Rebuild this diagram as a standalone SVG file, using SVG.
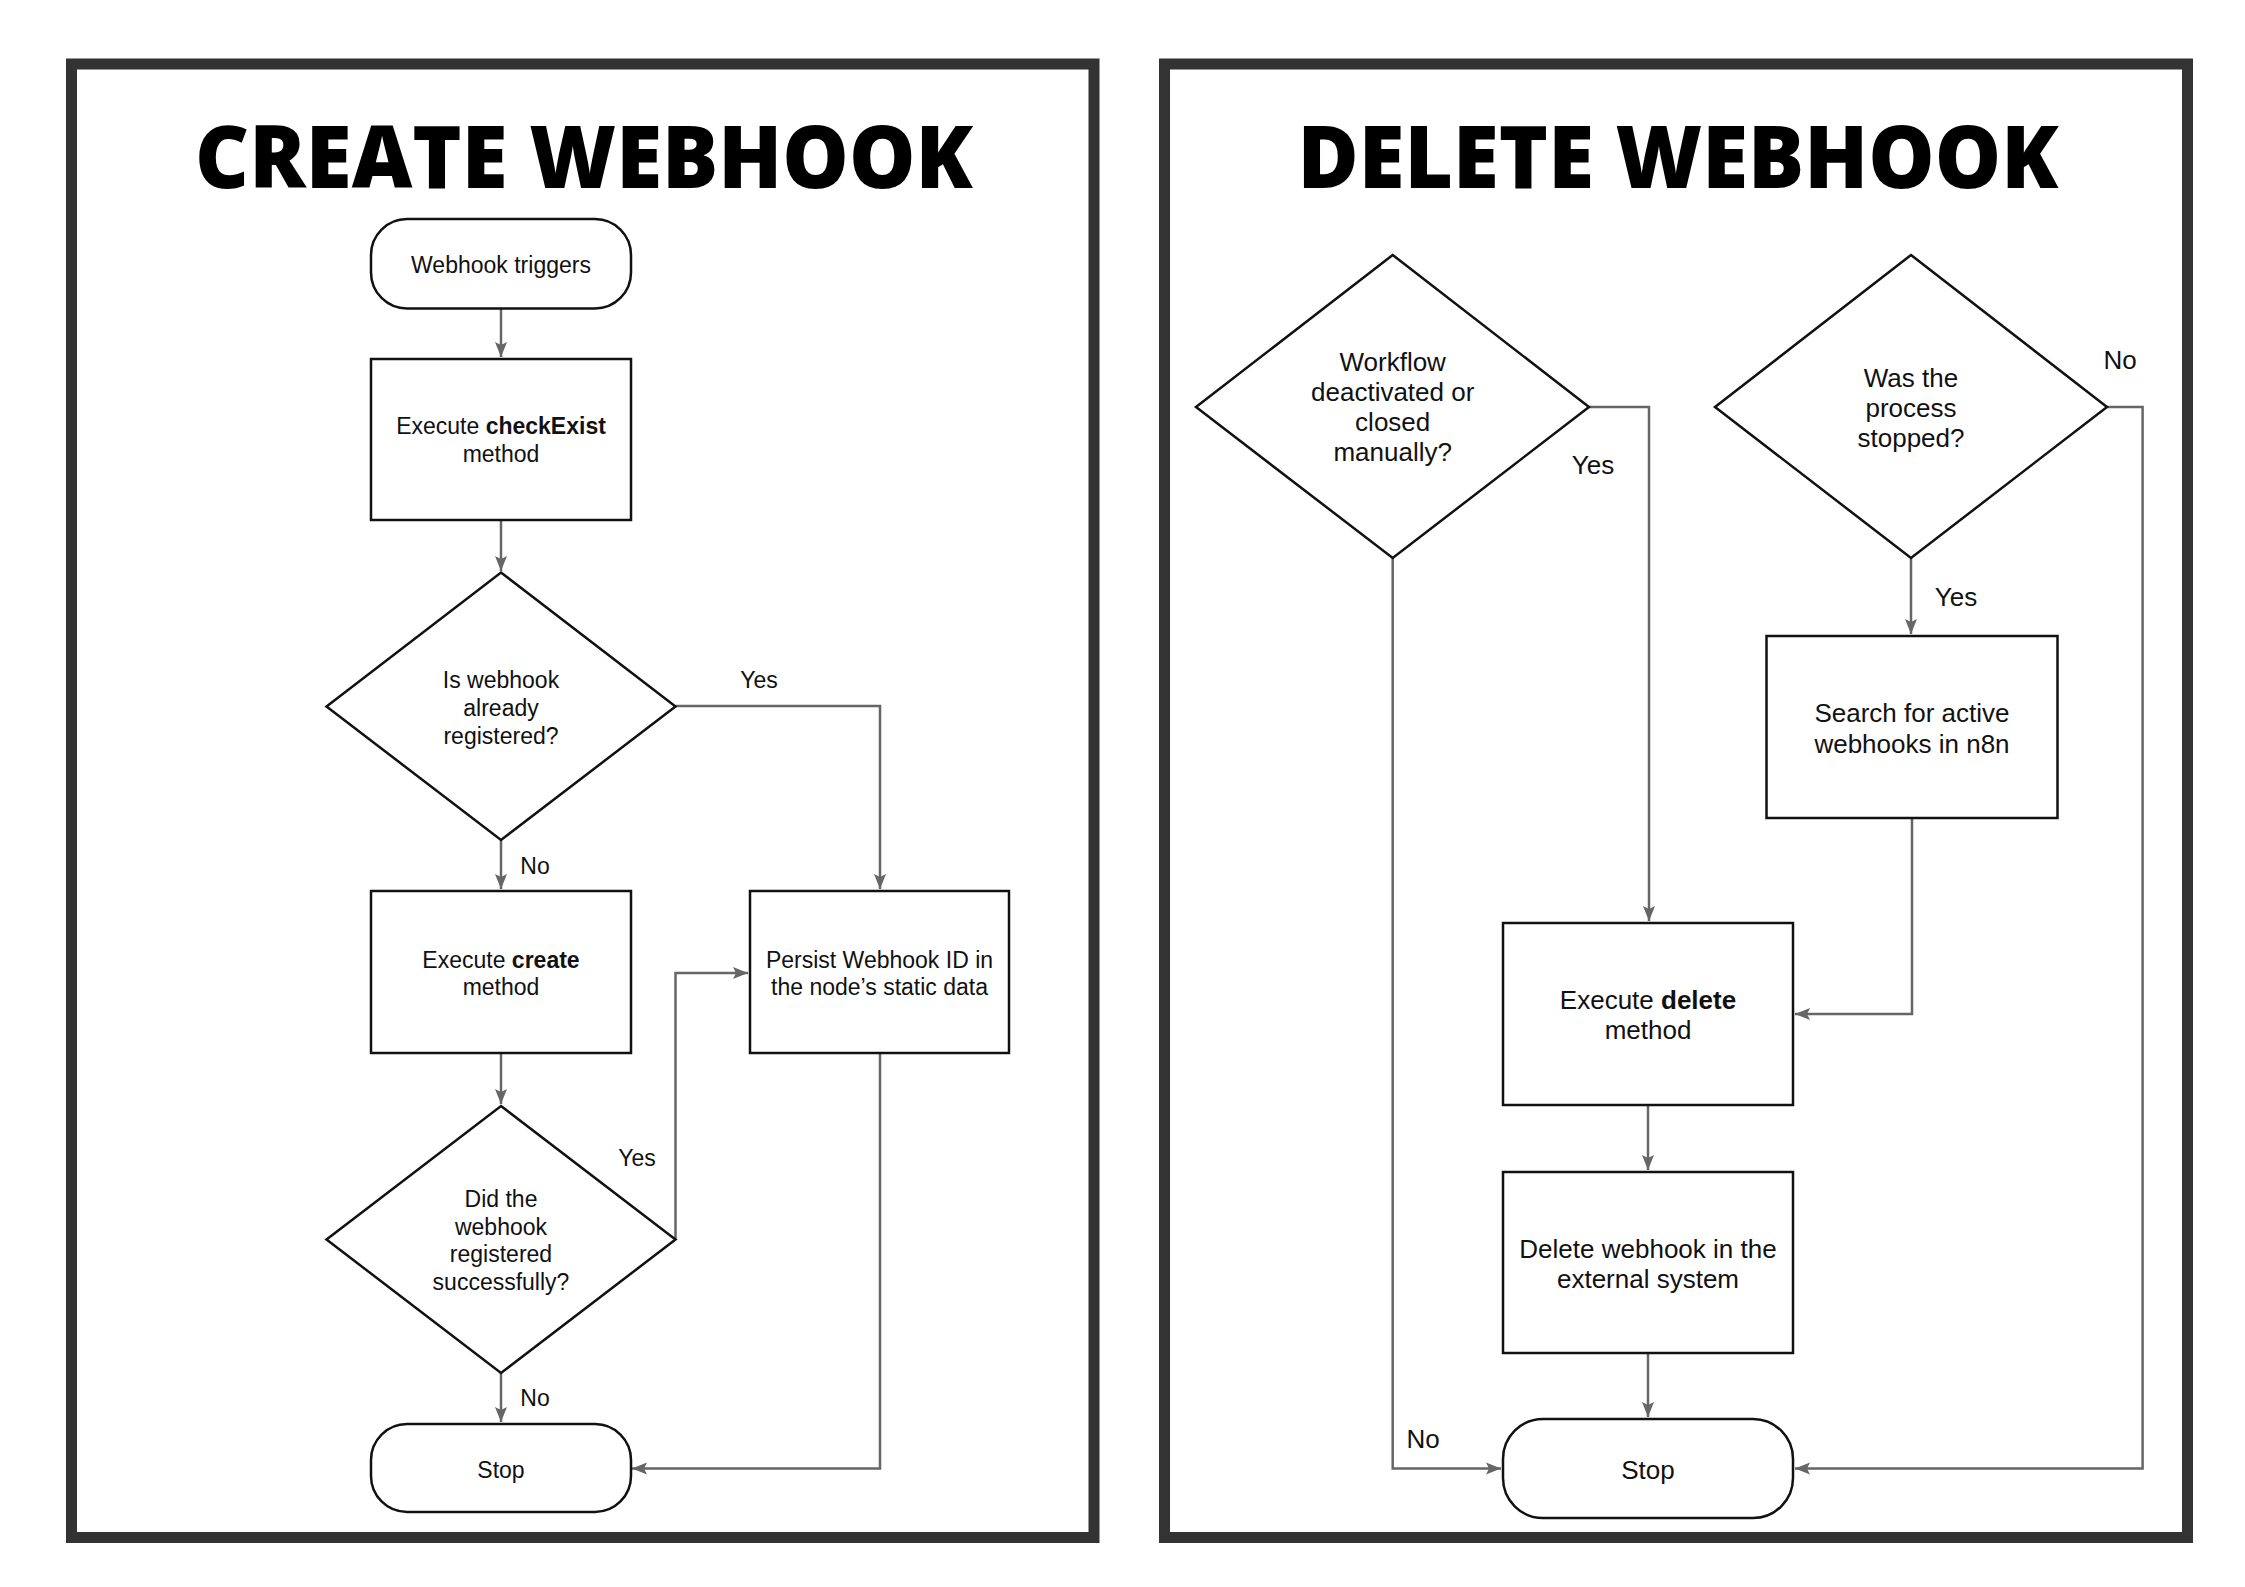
<svg xmlns="http://www.w3.org/2000/svg" width="2245" height="1587" viewBox="0 0 2245 1587">
<defs>
<marker id="arr" markerUnits="userSpaceOnUse" markerWidth="18" markerHeight="14" viewBox="-16 -7 17 14" refX="0" refY="0" orient="auto">
<path d="M0,0 L-15,-6 L-12,0 L-15,6 Z" fill="#666"/>
</marker>
<style>
.frame{fill:none;stroke:#333;stroke-width:11}
.title{font-family:"Open Sans","Liberation Sans",sans-serif;font-weight:800;font-size:86px;fill:#000;text-anchor:middle}
.n{fill:#fff;stroke:#111;stroke-width:2.5}
.t{font-family:"Liberation Sans",Arial,sans-serif;font-size:23px;fill:#111;text-anchor:middle}
.t2{font-family:"Liberation Sans",Arial,sans-serif;font-size:26px;fill:#111;text-anchor:middle}
.c{fill:none;stroke:#666;stroke-width:2.5}
.b{font-weight:bold}
</style>
</defs>
<rect width="2245" height="1587" fill="#fff"/>
<rect class="frame" x="71.5" y="64" width="1022.5" height="1473.5"/>
<rect class="frame" x="1164.5" y="64" width="1023" height="1473.5"/>
<text class="title" x="584" y="188" textLength="778" lengthAdjust="spacingAndGlyphs">CREATE WEBHOOK</text>
<text class="title" x="1678" y="188" textLength="761" lengthAdjust="spacingAndGlyphs">DELETE WEBHOOK</text>

<g id="connectors">
<path class="c" d="M501,309 V357" marker-end="url(#arr)"/>
<path class="c" d="M501,520 V571" marker-end="url(#arr)"/>
<path class="c" d="M676,706 H880 V889" marker-end="url(#arr)"/>
<path class="c" d="M501,840 V889" marker-end="url(#arr)"/>
<path class="c" d="M501,1053 V1104" marker-end="url(#arr)"/>
<path class="c" d="M675.5,1239 V973 H748" marker-end="url(#arr)"/>
<path class="c" d="M501,1373 V1422" marker-end="url(#arr)"/>
<path class="c" d="M880,1053 V1468.5 H632" marker-end="url(#arr)"/>
<path class="c" d="M1589,407 H1649 V921" marker-end="url(#arr)"/>
<path class="c" d="M1392.7,558 V1468.5 H1501" marker-end="url(#arr)"/>
<path class="c" d="M2107,407 H2142.6 V1468.5 H1795" marker-end="url(#arr)"/>
<path class="c" d="M1911,558 V634" marker-end="url(#arr)"/>
<path class="c" d="M1912,818 V1014 H1795" marker-end="url(#arr)"/>
<path class="c" d="M1648,1105 V1170" marker-end="url(#arr)"/>
<path class="c" d="M1648,1353 V1417" marker-end="url(#arr)"/>
<text class="t" x="759" y="688">Yes</text>
<text class="t" x="535" y="874">No</text>
<text class="t" x="637" y="1166">Yes</text>
<text class="t" x="535" y="1406">No</text>
<text class="t2" x="1593" y="474">Yes</text>
<text class="t2" x="2120" y="369">No</text>
<text class="t2" x="1956" y="606">Yes</text>
<text class="t2" x="1423" y="1448">No</text>
</g>

<g id="c-trigger">
<rect class="n" x="371" y="219" width="260" height="89.5" rx="36"/>
<text class="t" x="501" y="273">Webhook triggers</text>
</g>
<g id="c-checkexist">
<rect class="n" x="371" y="359" width="260" height="161"/>
<text class="t" x="501" y="434">Execute <tspan class="b">checkExist</tspan></text>
<text class="t" x="501" y="462">method</text>
</g>
<g id="c-registered">
<polygon class="n" points="501,572.5 675.5,706.5 501,840 326.5,706.5"/>
<text class="t" x="501" y="688">Is webhook</text>
<text class="t" x="501" y="716">already</text>
<text class="t" x="501" y="744">registered?</text>
</g>
<g id="c-create">
<rect class="n" x="371" y="891" width="260" height="162"/>
<text class="t" x="501" y="968">Execute <tspan class="b">create</tspan></text>
<text class="t" x="501" y="995">method</text>
</g>
<g id="c-persist">
<rect class="n" x="750" y="891" width="259" height="162"/>
<text class="t" x="879.5" y="968">Persist Webhook ID in</text>
<text class="t" x="879.5" y="995">the node’s static data</text>
</g>
<g id="c-success">
<polygon class="n" points="501,1106 675.5,1239.5 501,1373 326.5,1239.5"/>
<text class="t" x="501" y="1207">Did the</text>
<text class="t" x="501" y="1234.5">webhook</text>
<text class="t" x="501" y="1262">registered</text>
<text class="t" x="501" y="1289.5">successfully?</text>
</g>
<g id="c-stop">
<rect class="n" x="371" y="1424" width="260" height="88" rx="36"/>
<text class="t" x="501" y="1478">Stop</text>
</g>

<g id="d-deactivated">
<polygon class="n" points="1392.7,255 1589,407 1392.7,558 1196,407"/>
<text class="t2" x="1392.7" y="371">Workflow</text>
<text class="t2" x="1392.7" y="401">deactivated or</text>
<text class="t2" x="1392.7" y="431">closed</text>
<text class="t2" x="1392.7" y="461">manually?</text>
</g>
<g id="d-stopped">
<polygon class="n" points="1911,255 2107,407 1911,558 1715,407"/>
<text class="t2" x="1911" y="387">Was the</text>
<text class="t2" x="1911" y="417">process</text>
<text class="t2" x="1911" y="447">stopped?</text>
</g>
<g id="d-search">
<rect class="n" x="1766.5" y="636" width="291" height="182"/>
<text class="t2" x="1912" y="722">Search for active</text>
<text class="t2" x="1912" y="753">webhooks in n8n</text>
</g>
<g id="d-delete">
<rect class="n" x="1503" y="923" width="290" height="182"/>
<text class="t2" x="1648" y="1009">Execute <tspan class="b">delete</tspan></text>
<text class="t2" x="1648" y="1039">method</text>
</g>
<g id="d-external">
<rect class="n" x="1503" y="1172" width="290" height="181"/>
<text class="t2" x="1648" y="1258">Delete webhook in the</text>
<text class="t2" x="1648" y="1288">external system</text>
</g>
<g id="d-stop">
<rect class="n" x="1503" y="1419" width="290" height="99" rx="40"/>
<text class="t2" x="1648" y="1479">Stop</text>
</g>
</svg>
